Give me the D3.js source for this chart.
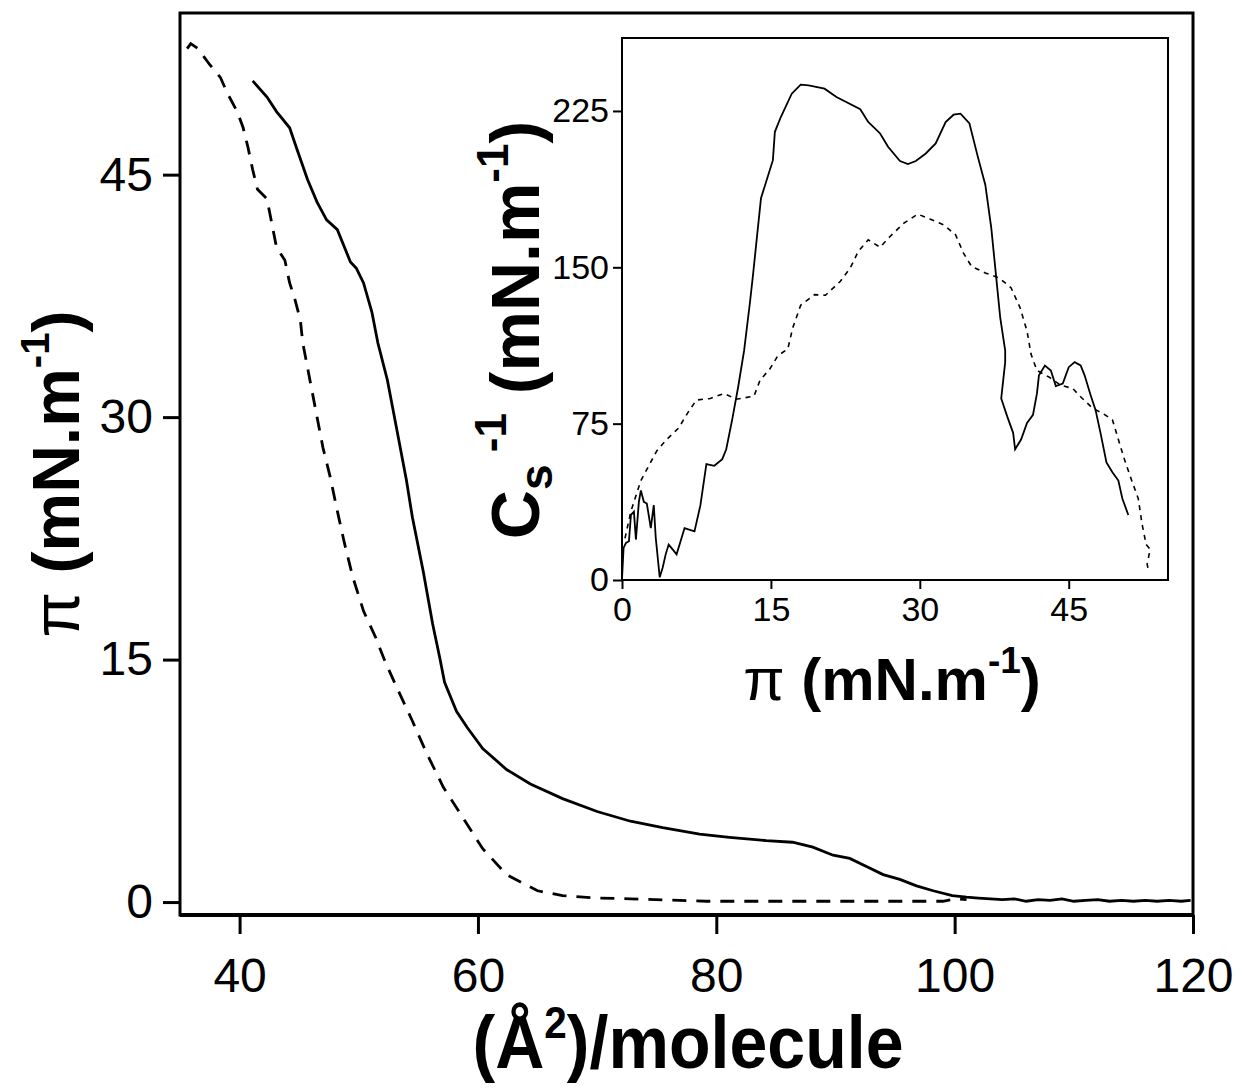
<!DOCTYPE html>
<html lang="en">
<head>
<meta charset="UTF-8">
<title>Isotherm</title>
<style>
  body { margin: 0; background: #fff; }
  svg { display: block; }
  text { font-family: "Liberation Sans", Arial, sans-serif; fill: #000; }
</style>
<script src="https://d3js.org/d3.v7.min.js"></script>
</head>
<body>
<svg id="chart" width="1240" height="1090"></svg>
<script>
// main isotherm: area (A^2/molecule) vs pi (mN/m)
const mainXTicks = [40, 60, 80, 100, 120];
const mainYTicks = [0, 15, 30, 45];
const mainSolid = [
  [41.1, 50.8], [42.3, 49.8], [43.1, 48.9], [44.2, 47.9], [44.8, 46.6], [45.7, 44.7],
  [46.5, 43.3], [47.3, 42.2], [48.2, 41.6], [49.3, 39.6], [49.8, 39.2], [50.4, 38.3],
  [51.1, 36.5], [51.6, 34.6], [52.4, 32.3], [53.2, 29.2], [54.0, 26.1], [54.5, 23.8],
  [55.4, 20.5], [56.2, 17.2], [56.8, 15.1], [57.2, 13.6], [58.2, 11.8], [59.1, 10.8],
  [60.4, 9.5], [62.4, 8.2], [64.4, 7.3], [67.1, 6.4], [70.0, 5.6], [72.8, 5.0],
  [75.5, 4.6], [78.6, 4.2], [81.1, 4.0], [84.2, 3.8], [86.4, 3.7], [88.1, 3.4],
  [89.8, 2.9], [91.2, 2.7], [92.6, 2.2], [94.0, 1.7], [95.4, 1.4], [96.8, 1.0],
  [98.2, 0.7], [99.8, 0.4], [101, 0.3], [102, 0.25], [103, 0.2], [104, 0.15],
  [105, 0.2], [106, 0.05], [107, 0.15], [108, 0.1], [109, 0.2], [110, 0.05],
  [111, 0.1], [112, 0.15], [113, 0.05], [114, 0.1], [115, 0.05], [116, 0.1],
  [117, 0.05], [118, 0.1], [119, 0.05], [119.8, 0.1]
];
const mainDashed = [
  [35.6, 52.8], [35.9, 53.1], [36.5, 52.8], [37.5, 51.8], [38.4, 51.0], [39.0, 50.0],
  [39.8, 48.9], [40.3, 47.9], [40.7, 46.7], [41.1, 45.3], [41.5, 44.1], [42.3, 43.5],
  [42.7, 42.0], [43.1, 40.5], [43.8, 39.7], [44.2, 38.3], [44.6, 37.4], [45.1, 36.0],
  [45.3, 34.6], [45.9, 32.3], [46.5, 30.0], [47.0, 28.1], [47.6, 26.3], [48.2, 24.2],
  [48.8, 22.2], [49.5, 20.1], [50.4, 18.0], [51.4, 16.4], [52.2, 14.9], [53.3, 13.1],
  [54.5, 11.2], [55.7, 9.2], [57.1, 7.1], [58.5, 5.5], [60.4, 3.3], [62.4, 1.7],
  [65.0, 0.7], [67.1, 0.4], [70.0, 0.25], [72.8, 0.2], [79.2, 0.05], [90, 0.05],
  [99, 0.05], [100.2, 0.2], [101, 0.15]
];

// inset: compressibility modulus vs pi
const insetXTicks = [0, 15, 30, 45];
const insetYTicks = [0, 75, 150, 225];
const insetSolid = [
  [0, 0.5], [0.16, 15.4], [0.4, 17.8], [0.7, 18.6], [0.9, 31.2], [1.2, 32.8], [1.4, 19.4],
  [1.7, 37.5], [1.9, 43.0], [2.2, 37.5], [2.5, 36.7], [2.9, 24.9], [3.2, 35.9], [3.4, 20.2],
  [3.7, 6.0], [3.8, 1.3], [4.1, 6.0], [4.4, 12.3], [4.7, 17.0], [5.1, 14.7], [5.5, 12.3],
  [5.9, 18.6], [6.3, 24.9], [7.3, 23.3], [7.9, 35.9], [8.5, 55.6], [9.3, 54.8], [10.1, 58.0],
  [10.5, 62.7], [11.1, 76.9], [11.7, 92.6], [12.3, 110.0], [12.9, 133.6], [13.2, 146.5],
  [13.6, 164.8], [14.0, 183.1], [15.2, 201.4], [15.4, 215.0], [16.0, 222.1], [17.1, 233.3],
  [18.0, 237.6], [18.8, 237.3], [20.4, 235.7], [21.6, 231.7], [24.0, 225.8], [24.8, 219.7],
  [26.0, 214.2], [26.8, 207.8], [28.0, 201.0], [28.8, 199.5], [29.6, 201.0], [30.6, 204.6],
  [31.6, 209.4], [32.6, 219.7], [33.4, 223.2], [34.1, 223.7], [35.0, 219.0], [35.8, 203.8],
  [36.6, 189.5], [37.2, 168.8], [37.7, 144.9], [38.1, 125.8], [38.6, 110.0], [38.6, 104.5],
  [38.2, 87.1], [38.8, 78.5], [39.4, 70.6], [39.6, 62.7], [40.2, 67.4], [40.8, 75.3],
  [41.4, 79.2], [41.8, 89.5], [42.0, 98.2], [42.6, 102.9], [43.2, 100.5], [43.7, 93.0],
  [44.4, 94.2], [45.0, 102.1], [45.6, 104.5], [46.2, 102.9], [46.6, 98.2], [47.2, 88.7],
  [47.7, 81.6], [48.2, 70.6], [48.8, 56.4], [49.4, 51.7], [50.0, 47.7], [50.4, 39.1],
  [51.0, 31.2]
];
const insetDashed = [
  [0.3, 20], [0.9, 33], [1.9, 47.7], [2.7, 54.8], [3.5, 61.9], [4.5, 67.4], [5.7, 72.9],
  [6.7, 80.8], [7.5, 86.3], [8.9, 87.1], [10.3, 89.5], [11.5, 86.7], [13.3, 88.2],
  [13.9, 95.8], [14.9, 101.3], [15.7, 107.6], [16.7, 110.8], [17.2, 121], [18.0, 131.8],
  [19.4, 136.9], [20.5, 136.6], [22.0, 143.3], [23.0, 149.7], [23.8, 157.6], [24.8, 163.2],
  [26.0, 159.6], [27.0, 164.8], [28.4, 171.2], [29.8, 175.5], [31.0, 173.2], [32.4, 170.4],
  [33.6, 165.6], [34.4, 156.8], [35.2, 150.5], [36.6, 147.3], [38.0, 144.9], [39.2, 140.1],
  [40.1, 130.6], [40.8, 119.4], [41.2, 108.4], [41.8, 100.5], [43.0, 97.4], [44.2, 93.4],
  [45.4, 91.9], [46.2, 87.9], [47.4, 82.4], [48.4, 80.0], [49.4, 76.9], [50.0, 67.4],
  [50.6, 58.0], [51.4, 47.0], [52.0, 39.1], [52.4, 26.5], [52.8, 17.0], [53.2, 14.7],
  [52.9, 7.6], [53.0, 5.2]
];

const svg = d3.select("#chart");

// ---------- main plot ----------
const x = d3.scaleLinear().domain([35, 120]).range([180, 1193]);
const y = d3.scaleLinear().domain([-0.8, 55]).range([915, 13]);

const line = d3.line().x(d => x(d[0])).y(d => y(d[1]));

svg.append("path").datum(mainDashed)
  .attr("d", line).attr("fill", "none").attr("stroke", "#000")
  .attr("stroke-width", 2.8).attr("stroke-dasharray", "14,10");
svg.append("path").datum(mainSolid)
  .attr("d", line).attr("fill", "none").attr("stroke", "#000")
  .attr("stroke-width", 2.8);

const xAxis = svg.append("g").attr("transform", "translate(0,915)")
  .call(d3.axisBottom(x).tickValues(mainXTicks).tickSizeOuter(0).tickSize(19).tickPadding(24));
const yAxis = svg.append("g").attr("transform", "translate(180,0)")
  .call(d3.axisLeft(y).tickValues(mainYTicks).tickSizeOuter(0).tickSize(17).tickPadding(10));
[xAxis, yAxis].forEach(g => {
  g.select(".domain").remove();
  g.selectAll("line").attr("stroke", "#000").attr("stroke-width", 3);
  g.selectAll("text").attr("font-size", 48).attr("font-family", "Liberation Sans, Arial, sans-serif");
});

svg.append("rect").attr("x", 180).attr("y", 13).attr("width", 1193 - 180).attr("height", 915 - 13)
  .attr("fill", "none").attr("stroke", "#000").attr("stroke-width", 3);
svg.append("line").attr("x1", 180).attr("x2", 1194).attr("y1", 915).attr("y2", 915)
  .attr("stroke", "#000").attr("stroke-width", 4);

// axis titles
const xt = svg.append("text").attr("transform", "translate(688,1068) scale(0.92,1)")
  .attr("text-anchor", "middle").attr("font-size", 74).attr("font-weight", "bold");
xt.append("tspan").text("(Å");
xt.append("tspan").attr("font-size", 44).attr("dy", -30).text("2");
xt.append("tspan").attr("dy", 30).text(")/molecule");

const yt = svg.append("text").attr("transform", "translate(79,474) rotate(-90)")
  .attr("text-anchor", "middle").attr("font-size", 66).attr("font-weight", "bold");
yt.append("tspan").attr("font-weight", "normal").text("π ");
yt.append("tspan").text("(mN.m");
yt.append("tspan").attr("font-size", 40).attr("dy", -30).text("-1");
yt.append("tspan").attr("dy", 30).text(")");

// ---------- inset ----------
const ix = d3.scaleLinear().domain([0, 55]).range([622, 1168]);
const iy = d3.scaleLinear().domain([0, 260]).range([580, 38]);
const iline = d3.line().x(d => ix(d[0])).y(d => iy(d[1]));

svg.append("rect").attr("x", 622).attr("y", 38).attr("width", 1168 - 622).attr("height", 580 - 38)
  .attr("fill", "#fff").attr("stroke", "#000").attr("stroke-width", 2);

svg.append("path").datum(insetDashed)
  .attr("d", iline).attr("fill", "none").attr("stroke", "#000")
  .attr("stroke-width", 1.6).attr("stroke-dasharray", "5,5");
svg.append("path").datum(insetSolid)
  .attr("d", iline).attr("fill", "none").attr("stroke", "#000")
  .attr("stroke-width", 1.8);

const ixAxis = svg.append("g").attr("transform", "translate(0,580)")
  .call(d3.axisBottom(ix).tickValues(insetXTicks).tickSizeOuter(0).tickSize(9).tickPadding(8));
const iyAxis = svg.append("g").attr("transform", "translate(622,0)")
  .call(d3.axisLeft(iy).tickValues(insetYTicks).tickSizeOuter(0).tickSize(9).tickPadding(4));
[ixAxis, iyAxis].forEach(g => {
  g.select(".domain").remove();
  g.selectAll("line").attr("stroke", "#000").attr("stroke-width", 2);
  g.selectAll("text").attr("font-size", 34).attr("font-family", "Liberation Sans, Arial, sans-serif");
});

const ixt = svg.append("text").attr("x", 892).attr("y", 700).attr("text-anchor", "middle")
  .attr("font-size", 60).attr("font-weight", "bold");
ixt.append("tspan").attr("font-weight", "normal").text("π ");
ixt.append("tspan").text("(mN.m");
ixt.append("tspan").attr("font-size", 37).attr("dy", -27).text("-1");
ixt.append("tspan").attr("dy", 27).text(")");

const iyt = svg.append("text").attr("transform", "translate(539,330) rotate(-90)")
  .attr("text-anchor", "middle").attr("font-size", 68).attr("font-weight", "bold");
iyt.append("tspan").text("C");
iyt.append("tspan").attr("font-size", 46).attr("dy", 13).text("s");
iyt.append("tspan").attr("font-size", 44).attr("dy", -46).text(" -1");
iyt.append("tspan").attr("dy", 33).text(" (mN.m");
iyt.append("tspan").attr("font-size", 44).attr("dy", -31).text("-1");
iyt.append("tspan").attr("dy", 31).text(")");
</script>
</body>
</html>
